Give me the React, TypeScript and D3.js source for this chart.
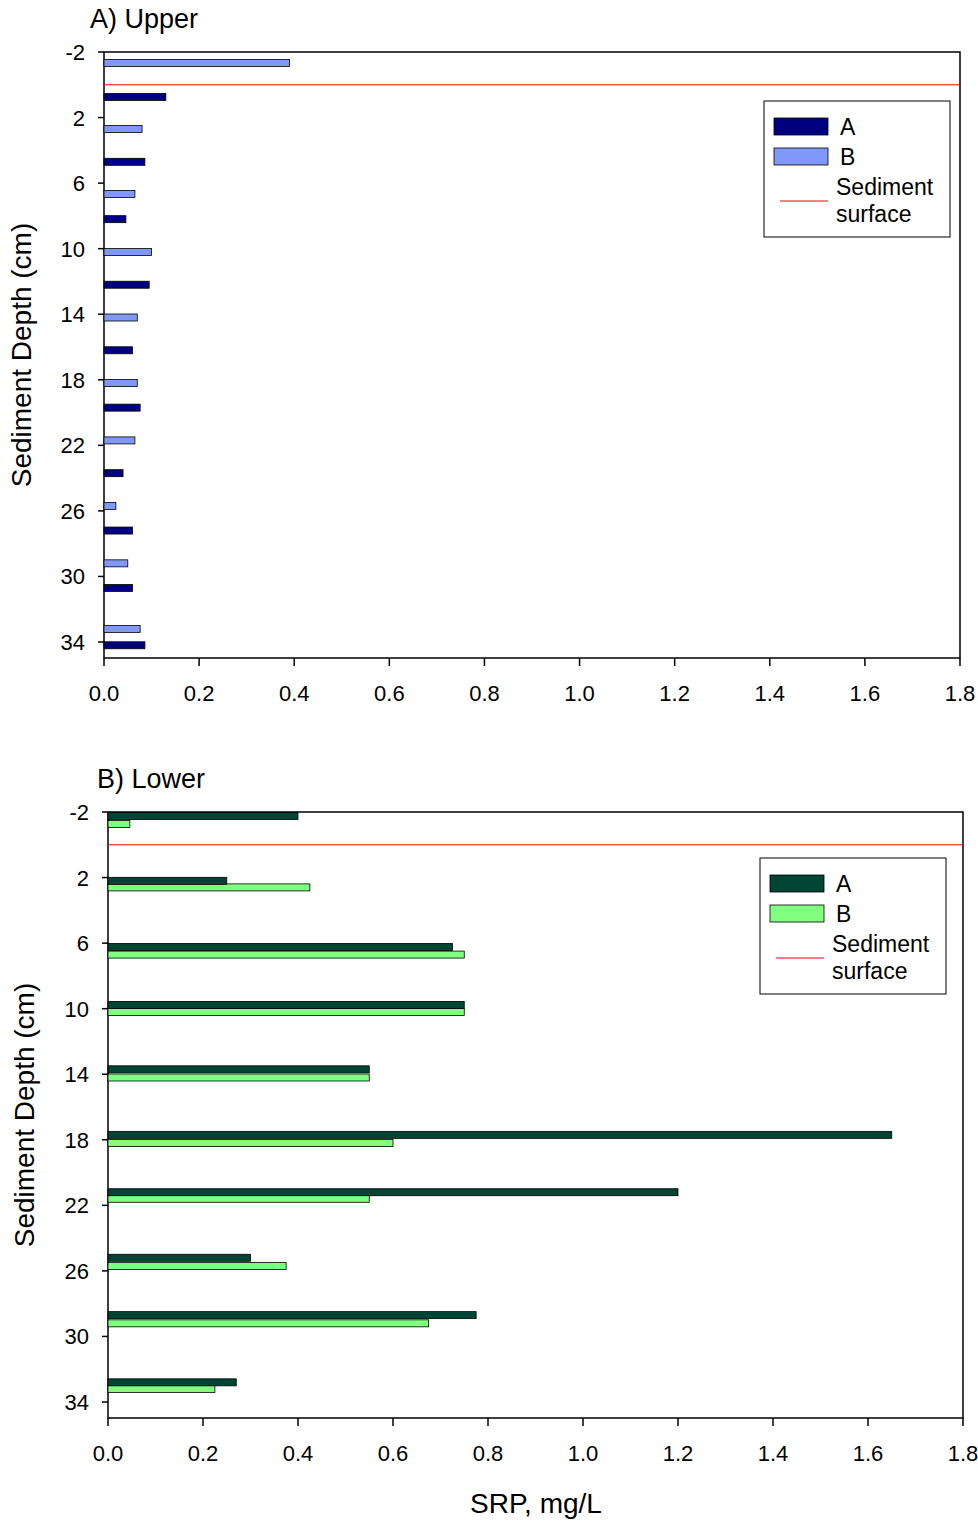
import React from 'react';
import * as d3 from 'd3';

// upper panel: each bar sits at its own depth
const upperA = [
  { depth: 0.74, value: 0.13 }, { depth: 4.7, value: 0.086 }, { depth: 8.2, value: 0.046 },
  { depth: 12.2, value: 0.095 }, { depth: 16.2, value: 0.06 }, { depth: 19.7, value: 0.076 },
  { depth: 23.7, value: 0.04 }, { depth: 27.2, value: 0.06 }, { depth: 30.7, value: 0.06 },
  { depth: 34.2, value: 0.086 },
];
const upperB = [
  { depth: -1.33, value: 0.39 }, { depth: 2.7, value: 0.08 }, { depth: 6.66, value: 0.065 },
  { depth: 10.2, value: 0.1 }, { depth: 14.2, value: 0.07 }, { depth: 18.2, value: 0.07 },
  { depth: 21.7, value: 0.065 }, { depth: 25.7, value: 0.025 }, { depth: 29.2, value: 0.05 },
  { depth: 33.2, value: 0.076 },
];
const lowerA = [
  { depth: -1.76, value: 0.4 }, { depth: 2.2, value: 0.25 }, { depth: 6.24, value: 0.725 },
  { depth: 9.77, value: 0.75 }, { depth: 13.7, value: 0.55 }, { depth: 17.7, value: 1.65 },
  { depth: 21.2, value: 1.2 }, { depth: 25.2, value: 0.3 }, { depth: 28.7, value: 0.775 },
  { depth: 32.8, value: 0.27 },
];
const lowerB = [
  { depth: -1.27, value: 0.046 }, { depth: 2.6, value: 0.425 }, { depth: 6.7, value: 0.75 },
  { depth: 10.2, value: 0.75 }, { depth: 14.2, value: 0.55 }, { depth: 18.2, value: 0.6 },
  { depth: 21.6, value: 0.55 }, { depth: 25.7, value: 0.375 }, { depth: 29.2, value: 0.675 },
  { depth: 33.2, value: 0.225 },
];
const depthTicks = [-2, 2, 6, 10, 14, 18, 22, 26, 30, 34];
const srpTicks = [0, 0.2, 0.4, 0.6, 0.8, 1.0, 1.2, 1.4, 1.6, 1.8];
const surfaceDepth = 0;

type Pt = { depth: number; value: number };

const font = 'Arial, "Liberation Sans", sans-serif';

const Panel = ({ title, a, b, colA, colB, left, top, right, bottom, legX, legY, titleX, yLabelX }: {
  title: string; a: Pt[]; b: Pt[]; colA: string; colB: string;
  left: number; top: number; right: number; bottom: number;
  legX: number; legY: number; titleX: number; yLabelX: number;
}) => {
  const x = d3.scaleLinear().domain([0, 1.8]).range([left, right]);
  const yEnd = top + 590;
  const y = d3.scaleLinear().domain([-2, 34]).range([top, yEnd]);
  const bh = 7;
  const bar = (d: Pt, c: string, i: number) => (
    <rect key={c + i} x={x(0)} y={y(d.depth) - bh / 2} width={x(d.value) - x(0)} height={bh}
      fill={c} stroke="#000" strokeWidth={0.8} />
  );
  return (
    <g fontFamily={font} fill="#000">
      <text x={titleX} y={top - 24} fontSize={27}>{title}</text>
      <rect x={left} y={top} width={right - left} height={bottom - top} fill="none" stroke="#000" strokeWidth={1.5} />
      <line x1={left} x2={right} y1={y(surfaceDepth)} y2={y(surfaceDepth)} stroke="red" strokeWidth={1} />
      {b.map((d, i) => bar(d, colB, i))}
      {a.map((d, i) => bar(d, colA, i))}
      {depthTicks.map(t => (
        <g key={t}>
          <line x1={left - 6} x2={left} y1={y(t)} y2={y(t)} stroke="#000" strokeWidth={1.5} />
          <text x={left - 19} y={y(t) + 8} fontSize={22} textAnchor="end">{t}</text>
        </g>
      ))}
      {srpTicks.map(t => (
        <g key={t}>
          <line x1={x(t)} x2={x(t)} y1={bottom} y2={bottom + 8} stroke="#000" strokeWidth={1.5} />
          <text x={x(t)} y={bottom + 43} fontSize={22} textAnchor="middle">{t.toFixed(1)}</text>
        </g>
      ))}
      <text transform={`translate(${yLabelX},${(top + bottom) / 2}) rotate(-90)`} fontSize={28} textAnchor="middle">Sediment Depth (cm)</text>
      <g transform={`translate(${legX},${legY})`}>
        <rect x={0} y={0} width={186} height={136} fill="#fff" stroke="#000" strokeWidth={1} />
        <rect x={10} y={17} width={54} height={17} fill={colA} stroke="#000" strokeWidth={0.8} />
        <text x={76} y={34} fontSize={23}>A</text>
        <rect x={10} y={47} width={54} height={17} fill={colB} stroke="#000" strokeWidth={0.8} />
        <text x={76} y={64} fontSize={23}>B</text>
        <line x1={16} x2={64} y1={100} y2={100} stroke="red" strokeWidth={1} />
        <text x={72} y={94} fontSize={23}>Sediment</text>
        <text x={72} y={121} fontSize={23}>surface</text>
      </g>
    </g>
  );
};

export default function App() {
  return (
    <svg width={978} height={1521} style={{ position: 'absolute', left: 0, top: 0 }}>
      <rect width={978} height={1521} fill="#fff" />
      <Panel title="A) Upper" a={upperA} b={upperB} colA="#000080" colB="#8099F8"
        left={104} top={52} right={960} bottom={658} legX={764} legY={101} titleX={90} yLabelX={31} />
      <Panel title="B) Lower" a={lowerA} b={lowerB} colA="#004433" colB="#80FF80"
        left={108} top={812} right={963} bottom={1418} legX={760} legY={858} titleX={97} yLabelX={34} />
      <text x={536} y={1513} fontSize={28} fontFamily={font} textAnchor="middle">SRP, mg/L</text>
    </svg>
  );
}
